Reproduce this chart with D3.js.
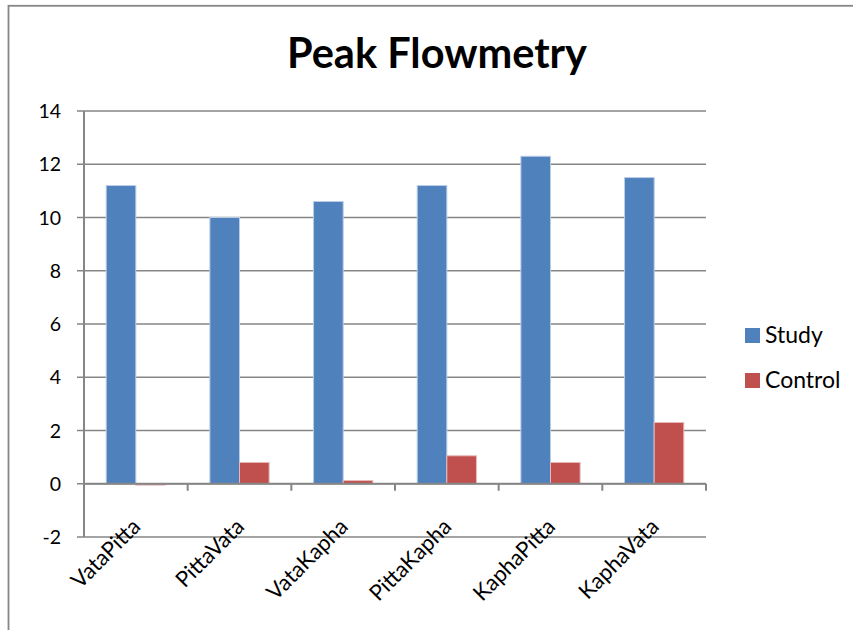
<!DOCTYPE html>
<html>
<head>
<meta charset="utf-8">
<script src="https://cdn.jsdelivr.net/npm/d3@7"></script>
<style>
  html, body { margin: 0; padding: 0; background: #fff; }
  svg { display: block; }
  text { font-family: Lato, "Open Sans", sans-serif; fill: #000; }
</style>
</head>
<body>
<svg id="chart" width="853" height="630"></svg>
<script>
// Peak flowmetry by prakriti group
const categories = ["VataPitta", "PittaVata", "VataKapha", "PittaKapha", "KaphaPitta", "KaphaVata"];
const studyValues = [11.2, 10.0, 10.6, 11.2, 12.3, 11.5];
const controlValues = [-0.05, 0.8, 0.12, 1.05, 0.8, 2.3];
const seriesNames = ["Study", "Control"];
const seriesColors = ["#4F81BD", "#C0504D"];
const seriesStrokes = ["#B9CDE5", "#E6B9B8"];
const yTicks = [-2, 0, 2, 4, 6, 8, 10, 12, 14];

const svg = d3.select("#chart");
const W = 853, H = 630;

// outer chart border
svg.append("rect")
  .attr("x", 8.5).attr("y", 5.8)
  .attr("width", W + 10).attr("height", H + 10)
  .attr("fill", "#fff").attr("stroke", "#868686").attr("stroke-width", 1.8);

const plot = { left: 84, right: 706, top: 111, bottom: 537 };

const x = d3.scaleBand().domain(categories).range([plot.left, plot.right]).paddingInner(0).paddingOuter(0);
const y = d3.scaleLinear().domain([-2, 14]).range([plot.bottom, plot.top]);

// horizontal gridlines with left tick marks
svg.append("g").selectAll("line").data(yTicks).join("line")
  .attr("x1", plot.left - 7).attr("x2", plot.right)
  .attr("y1", d => y(d)).attr("y2", d => y(d))
  .attr("stroke", "#868686").attr("stroke-width", 1.5);

// y tick labels
svg.append("g").selectAll("text").data(yTicks).join("text")
  .attr("x", 61).attr("y", d => y(d))
  .attr("dy", "0.36em")
  .attr("text-anchor", "end")
  .attr("font-size", 19.5)
  .text(d => d);

// bars
const bw = x.bandwidth() / 3.5;
const series = [studyValues, controlValues];
series.forEach((vals, si) => {
  svg.append("g").selectAll("rect").data(vals).join("rect")
    .attr("x", (d, i) => x(categories[i]) + 0.75 * bw + si * bw)
    .attr("y", d => y(Math.max(0, d)))
    .attr("width", bw)
    .attr("height", d => Math.abs(y(d) - y(0)))
    .attr("fill", seriesColors[si])
    .attr("stroke", seriesStrokes[si]).attr("stroke-width", 1);
});

// y axis line
svg.append("line")
  .attr("x1", plot.left).attr("x2", plot.left)
  .attr("y1", plot.top).attr("y2", plot.bottom)
  .attr("stroke", "#868686").attr("stroke-width", 2);

// category axis at zero with boundary ticks
svg.append("line")
  .attr("x1", plot.left).attr("x2", plot.right)
  .attr("y1", y(0)).attr("y2", y(0))
  .attr("stroke", "#868686").attr("stroke-width", 2);
const bounds = categories.map(c => x(c)).concat([plot.right]);
svg.append("g").selectAll("line").data(bounds).join("line")
  .attr("x1", d => d).attr("x2", d => d)
  .attr("y1", y(0)).attr("y2", y(0) + 7)
  .attr("stroke", "#868686").attr("stroke-width", 2);

// rotated category labels
svg.append("g").selectAll("text").data(categories).join("text")
  .attr("transform", d => `translate(${x(d) + x.bandwidth() / 2 + 6},${528}) rotate(-45)`)
  .attr("text-anchor", "end")
  .attr("font-size", 22)
  .text(d => d);

// title
svg.append("text")
  .attr("x", 437).attr("y", 68)
  .attr("text-anchor", "middle")
  .attr("font-size", 41.5)
  .attr("font-weight", "bold")
  .text("Peak Flowmetry");

// legend
const lg = svg.append("g");
seriesNames.forEach((name, i) => {
  const base = 343 + i * 45;
  lg.append("rect").attr("x", 745).attr("y", base - 15).attr("width", 15).attr("height", 15)
    .attr("fill", seriesColors[i]);
  lg.append("text").attr("x", 765).attr("y", base)
    .attr("font-size", 23).text(name);
});
</script>
</body>
</html>
